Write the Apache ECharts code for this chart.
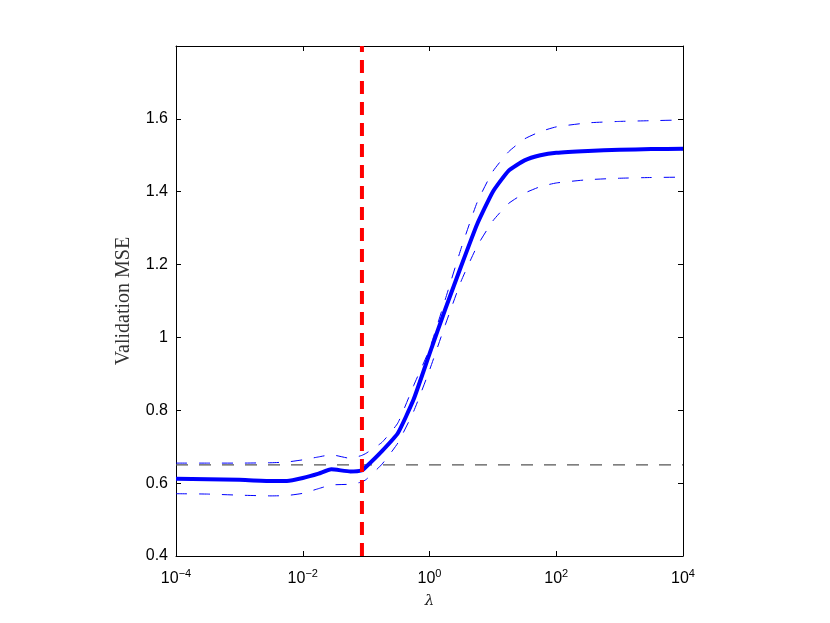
<!DOCTYPE html>
<html>
<head>
<meta charset="utf-8">
<script src="https://cdn.jsdelivr.net/npm/echarts@6/dist/echarts.min.js"></script>
<style>
  html, body { margin: 0; padding: 0; background: #fff; }
  #main { width: 830px; height: 623px; }
</style>
</head>
<body>
<div id="main"></div>
<script>
// log10(lambda) grid
var lambdaExp = [-4, -3.5, -3, -2.5, -2.25, -2, -1.75, -1.55, -1.25, -1.07, -1, -0.75, -0.5, -0.25, 0, 0.25, 0.5, 0.75, 1, 1.25, 1.5, 1.75, 2, 2.5, 3, 3.5, 4];
// validation MSE: mean and +/- one std error
var mseMean  = [0.612, 0.611, 0.609, 0.606, 0.606, 0.614, 0.626, 0.638, 0.632, 0.635, 0.645, 0.688, 0.737, 0.830, 0.955, 1.078, 1.196, 1.310, 1.400, 1.458, 1.486, 1.500, 1.507, 1.512, 1.515, 1.517, 1.518];
var mseUpper = [0.655, 0.655, 0.655, 0.656, 0.658, 0.664, 0.672, 0.678, 0.668, 0.676, 0.682, 0.712, 0.765, 0.868, 0.968, 1.105, 1.245, 1.370, 1.456, 1.510, 1.545, 1.565, 1.578, 1.589, 1.593, 1.595, 1.597];
var mseLower = [0.571, 0.570, 0.567, 0.565, 0.566, 0.572, 0.585, 0.595, 0.597, 0.603, 0.610, 0.652, 0.710, 0.797, 0.910, 1.035, 1.155, 1.250, 1.320, 1.368, 1.396, 1.414, 1.424, 1.433, 1.437, 1.439, 1.440];
// chosen lambda (log10) and one-SE threshold
var bestLambdaExp = -1.066;
var mseThreshold = 0.65;
var xTicks = [-4, -2, 0, 2, 4];
var yTicks = [0.4, 0.6, 0.8, 1, 1.2, 1.4, 1.6];

function pairs(ys) {
    var d = [];
    lambdaExp.forEach(function(x, i) { d.push([x, ys[i]]); });
    return d;
}

var myChart = echarts.init(document.getElementById('main'));
var tickStyle = { inside: true, length: 5, lineStyle: { color: '#000', width: 1 } };
var lineStyle = { onZero: false, lineStyle: { color: '#000', width: 1 } };

var option = {
    backgroundColor: '#fff',
    animation: false,
    grid: { left: 176, right: 147, top: 46, bottom: 67 },
    xAxis: [{
        type: 'value',
        min: -4, max: 4, interval: 2,
        position: 'bottom',
        axisLine: lineStyle,
        axisTick: tickStyle,
        splitLine: { show: false },
        name: 'λ',
        nameLocation: 'middle',
        nameGap: 38,
        nameTextStyle: { fontFamily: 'DejaVu Serif', fontStyle: 'italic', fontSize: 15, color: '#222' },
        axisLabel: {
            margin: 12,
            formatter: function(v) {
                if (xTicks.indexOf(v) < 0) return '';
                var e = v < 0 ? '\u2212' + (-v) : '' + v;
                return '{b|10}{s|' + e + '}';
            },
            rich: {
                b: { fontFamily: 'Liberation Sans', fontSize: 16, color: '#000' },
                s: { fontFamily: 'Liberation Sans', fontSize: 11, color: '#000', padding: [0, 0, 10, 0] }
            }
        }
    }, {
        type: 'value',
        min: -4, max: 4, interval: 2,
        position: 'top',
        axisLine: lineStyle,
        axisTick: tickStyle,
        axisLabel: { show: false },
        splitLine: { show: false }
    }],
    yAxis: [{
        type: 'value',
        min: 0.4, max: 1.8, interval: 0.2,
        position: 'left',
        axisLine: lineStyle,
        axisTick: tickStyle,
        splitLine: { show: false },
        name: 'Validation MSE',
        nameLocation: 'middle',
        nameGap: 42,
        nameTextStyle: { fontFamily: 'Liberation Serif', fontSize: 20, color: '#333' },
        axisLabel: {
            margin: 8,
            fontFamily: 'Liberation Sans', fontSize: 16, color: '#000',
            formatter: function(v) {
                var r = Math.round(v * 10) / 10;
                return yTicks.indexOf(r) < 0 ? '' : String(r);
            }
        }
    }, {
        type: 'value',
        min: 0.4, max: 1.8, interval: 0.2,
        position: 'right',
        axisLine: lineStyle,
        axisTick: tickStyle,
        axisLabel: { show: false },
        splitLine: { show: false }
    }],
    series: [{
        name: 'upper',
        type: 'line',
        data: pairs(mseUpper),
        symbol: 'none',
        smooth: 0.15,
        lineStyle: { color: '#0000ff', width: 1, type: [11, 12] },
        z: 3
    }, {
        name: 'lower',
        type: 'line',
        data: pairs(mseLower),
        symbol: 'none',
        smooth: 0.15,
        lineStyle: { color: '#0000ff', width: 1, type: [11, 12] },
        z: 3
    }, {
        name: 'threshold',
        type: 'line',
        data: [[-4, mseThreshold], [4, mseThreshold]],
        symbol: 'none',
        lineStyle: { color: '#555', width: 1.3, type: [12, 11] },
        z: 4
    }, {
        name: 'mean',
        type: 'line',
        data: pairs(mseMean),
        symbol: 'none',
        smooth: 0.15,
        lineStyle: { color: '#0000ff', width: 4 },
        z: 5
    }, {
        name: 'best',
        type: 'line',
        data: [[bestLambdaExp, 0.4], [bestLambdaExp, 1.8]],
        symbol: 'none',
        lineStyle: { color: '#ff0000', width: 4, type: [13, 8] },
        z: 6
    }]
};

myChart.setOption(option);
</script>
</body>
</html>
